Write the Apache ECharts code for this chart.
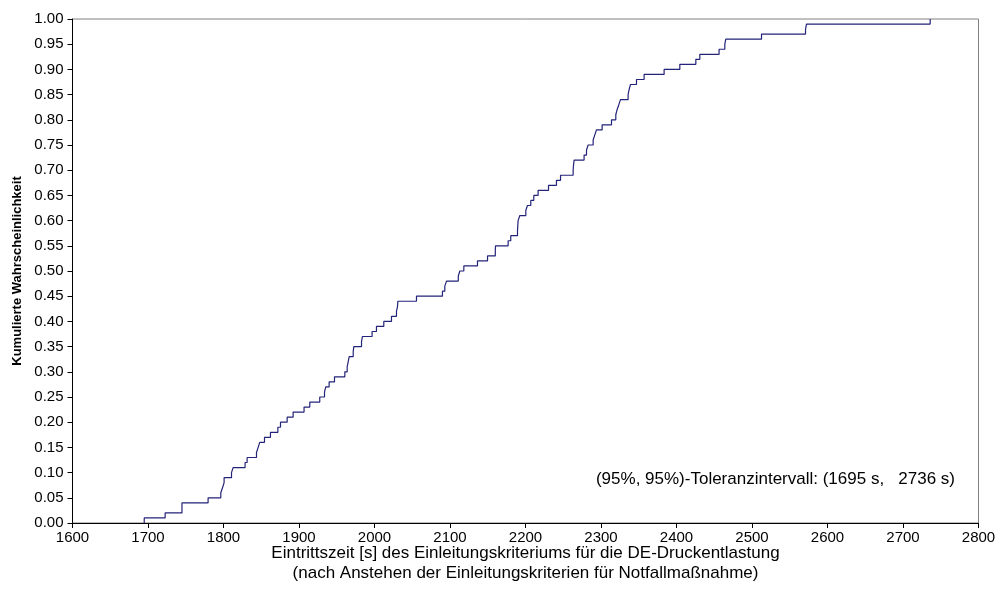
<!DOCTYPE html>
<html>
<head>
<meta charset="utf-8">
<script src="https://cdn.jsdelivr.net/npm/echarts@6/dist/echarts.min.js"></script>
<style>
html,body{margin:0;padding:0;background:#fff;}
#chart{width:999px;height:606px;}
</style>
</head>
<body>
<div id="chart"></div>
<script>
// Sorted sample values (s) at which the cumulative probability steps up by 0.01
var stepTimes = [
  1695, 1722.7, 1745, 1745, 1779.6, 1796.4, 1798.7, 1800.8, 1800.8, 1810.6,
  1812.7, 1828.6, 1831.3, 1843.7, 1845.9, 1848, 1854.3, 1862.2, 1872, 1875.5,
  1884.3, 1892.2, 1906.7, 1914.3, 1927.5, 1933.8, 1935.5, 1939.9, 1947, 1960.7,
  1963.8, 1965.2, 1966.5, 1971.8, 1972.6, 1982.8, 1984, 1996.8, 2002.6, 2012.3,
  2022.5, 2029.1, 2030.5, 2030.9, 2055.6, 2090, 2093.1, 2095.4, 2111, 2113,
  2118.3, 2136.4, 2149.7, 2160, 2160.3, 2177, 2180.5, 2189.4, 2189.8, 2190.2,
  2192.5, 2200.4, 2202.6, 2207, 2211, 2216.7, 2230.5, 2241, 2246.4, 2263.1,
  2263.6, 2264.4, 2277.6, 2280.8, 2283, 2289.6, 2291.8, 2294, 2301.5, 2313.9,
  2319.6, 2321.3, 2323.6, 2325.8, 2335.9, 2337.2, 2339.1, 2347, 2357.1, 2383.6,
  2404.4, 2425.6, 2430.9, 2456.4, 2464, 2465.3, 2512.6, 2570.9, 2572.2, 2736
];
var startTime = 1695;
var xTicks = [1600, 1700, 1800, 1900, 2000, 2100, 2200, 2300, 2400, 2500, 2600, 2700, 2800];
var yTicks = [0, 0.05, 0.10, 0.15, 0.20, 0.25, 0.30, 0.35, 0.40, 0.45, 0.50, 0.55, 0.60, 0.65, 0.70, 0.75, 0.80, 0.85, 0.90, 0.95, 1.00];
var xTitle = 'Eintrittszeit [s] des Einleitungskriteriums für die DE-Druckentlastung\n(nach Anstehen der Einleitungskriterien für Notfallmaßnahme)';
var yTitle = 'Kumulierte Wahrscheinlichkeit';
var noteText = '(95%, 95%)-Toleranzintervall: (1695 s,   2736 s)';

var ecdf = [[startTime, 0]];
for (var i = 0; i < stepTimes.length; i++) {
  ecdf.push([stepTimes[i], (i + 1) / 100]);
}

var chart = echarts.init(document.getElementById('chart'), null, {renderer: 'canvas'});
var font = 'Liberation Sans, Arial, sans-serif';
chart.setOption({
  animation: false,
  backgroundColor: '#ffffff',
  grid: {left: 72.5, right: 20.5, top: 19, bottom: 83, show: true, borderColor: '#808080', borderWidth: 1, backgroundColor: 'transparent'},
  xAxis: {
    type: 'value', min: xTicks[0], max: xTicks[xTicks.length - 1], interval: 100,
    name: xTitle, nameLocation: 'middle', nameGap: 20, nameMoveOverlap: false,
    nameTextStyle: {fontFamily: font, fontSize: 17, color: '#000', lineHeight: 20},
    axisLine: {show: true, onZero: false, lineStyle: {color: '#000', width: 1}},
    axisTick: {show: true, inside: false, length: 5, lineStyle: {color: '#000'}},
    axisLabel: {fontFamily: font, fontSize: 15, color: '#000', margin: 7,
      formatter: function (v) { return String(v); }},
    splitLine: {show: false}
  },
  yAxis: {
    type: 'value', min: 0, max: 1, interval: 0.05,
    name: yTitle, nameLocation: 'middle', nameGap: 49, nameRotate: 90, nameMoveOverlap: false,
    nameTextStyle: {fontFamily: font, fontSize: 13, fontWeight: 'bold', color: '#000'},
    axisLine: {show: true, onZero: false, lineStyle: {color: '#000', width: 1}},
    axisTick: {show: true, inside: false, length: 5, lineStyle: {color: '#000'}},
    axisLabel: {fontFamily: font, fontSize: 15, color: '#000', margin: 9,
      formatter: function (v) { return v.toFixed(2); }},
    splitLine: {show: false}
  },
  graphic: [{
    type: 'text', right: 44, top: 471,
    style: {text: noteText, font: '17px ' + font, fill: '#000'}
  }],
  series: [{
    type: 'line', data: ecdf, step: 'end', showSymbol: false, symbol: 'none',
    lineStyle: {color: '#23237a', width: 1.2}, silent: true
  }]
});
</script>
</body>
</html>
